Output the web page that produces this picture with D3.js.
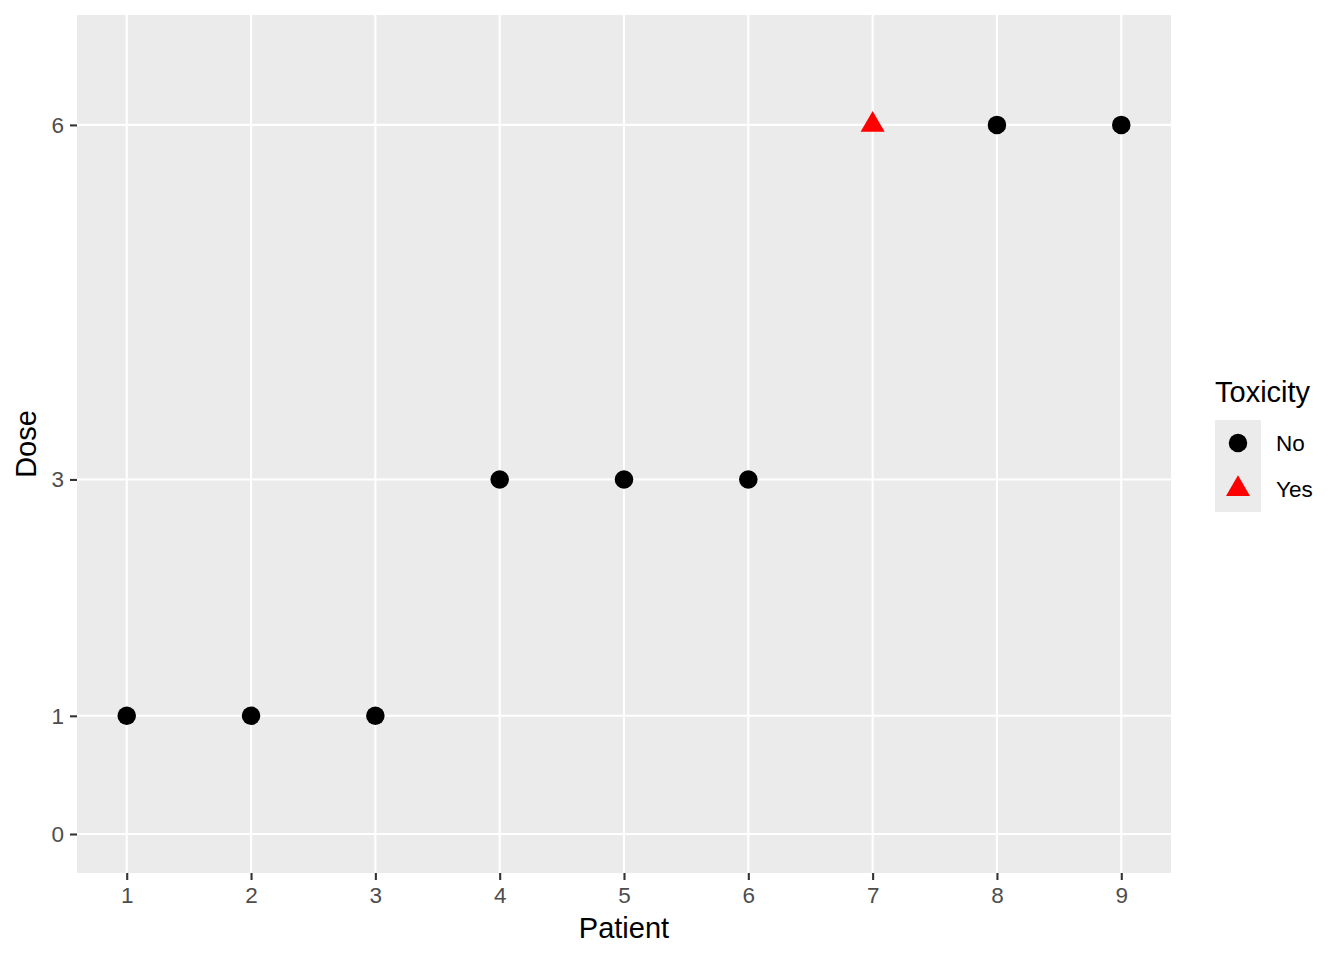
<!DOCTYPE html>
<html>
<head>
<meta charset="utf-8">
<script src="https://cdn.jsdelivr.net/npm/d3@7"></script>
<style>
body { margin: 0; background: #fff; }
text { font-family: "Liberation Sans", Arial, sans-serif; }
</style>
</head>
<body>
<div id="chart"></div>
<script>
var patients = [1, 2, 3, 4, 5, 6, 7, 8, 9];
var doses = [1, 1, 1, 3, 3, 3, 6, 6, 6];
var toxicity = ["No", "No", "No", "No", "No", "No", "Yes", "No", "No"];
var doseTicks = [0, 1, 3, 6];
var toxLevels = ["No", "Yes"];

var width = 1344, height = 960;
var panel = {left: 77, right: 1171, top: 15, bottom: 873};

var svg = d3.select("#chart").append("svg")
    .attr("width", width).attr("height", height);

var x = d3.scaleLinear().domain([0.6, 9.4]).range([panel.left, panel.right]);
var y = d3.scaleLinear().domain([-0.33, 6.93]).range([panel.bottom, panel.top]);

var colour = d3.scaleOrdinal().domain(toxLevels).range(["#000000", "#ff0000"]);
var shape = d3.scaleOrdinal().domain(toxLevels).range([d3.symbolCircle, d3.symbolTriangle]);
var size = {No: 270, Yes: 250};

// panel background + grid
svg.append("rect")
    .attr("x", panel.left).attr("y", panel.top)
    .attr("width", panel.right - panel.left).attr("height", panel.bottom - panel.top)
    .attr("fill", "#ebebeb");

svg.selectAll(".vgrid").data(patients).enter().append("line")
    .attr("x1", d => x(d)).attr("x2", d => x(d))
    .attr("y1", panel.top).attr("y2", panel.bottom)
    .attr("stroke", "#fff").attr("stroke-width", 2.1);

svg.selectAll(".hgrid").data(doseTicks).enter().append("line")
    .attr("y1", d => y(d)).attr("y2", d => y(d))
    .attr("x1", panel.left).attr("x2", panel.right)
    .attr("stroke", "#fff").attr("stroke-width", 2.1);

// axes
var xAxis = svg.append("g")
    .attr("transform", "translate(0," + panel.bottom + ")")
    .call(d3.axisBottom(x).tickValues(patients).tickSize(7).tickPadding(0).tickFormat(d3.format("d")));
var yAxis = svg.append("g")
    .attr("transform", "translate(" + panel.left + ",0)")
    .call(d3.axisLeft(y).tickValues(doseTicks).tickSize(7).tickPadding(6).tickFormat(d3.format("d")));

[xAxis, yAxis].forEach(function(a) {
    a.select(".domain").remove();
    a.selectAll(".tick line").attr("stroke", "#333").attr("stroke-width", 2.1);
    a.selectAll(".tick text").attr("fill", "#4d4d4d")
        .style("font-size", "22.5px").style("font-family", "Liberation Sans, Arial, sans-serif");
});
xAxis.selectAll(".tick text").attr("y", 30).attr("dy", null);

// axis titles
svg.append("text")
    .attr("x", (panel.left + panel.right) / 2).attr("y", 938)
    .attr("text-anchor", "middle")
    .style("font-size", "29px")
    .text("Patient");
svg.append("text")
    .attr("transform", "translate(36," + ((panel.top + panel.bottom) / 2) + ") rotate(-90)")
    .attr("text-anchor", "middle")
    .style("font-size", "29px")
    .text("Dose");

// points
svg.selectAll(".pt").data(patients).enter().append("path")
    .attr("transform", (d, i) => "translate(" + x(d) + "," + y(doses[i]) + ")")
    .attr("d", (d, i) => d3.symbol().type(shape(toxicity[i])).size(size[toxicity[i]])())
    .attr("fill", (d, i) => colour(toxicity[i]));

// legend
var lg = svg.append("g").attr("transform", "translate(1215,0)");
lg.append("text").attr("x", 0).attr("y", 402)
    .style("font-size", "29px").text("Toxicity");
var keys = lg.selectAll(".key").data(toxLevels).enter().append("g")
    .attr("transform", (d, i) => "translate(0," + (420 + i * 46) + ")");
keys.append("rect").attr("width", 46).attr("height", 46).attr("fill", "#ebebeb");
keys.append("path")
    .attr("transform", "translate(23,23)")
    .attr("d", d => d3.symbol().type(shape(d)).size(size[d])())
    .attr("fill", d => colour(d));
keys.append("text")
    .attr("x", 61).attr("y", 23).attr("dy", "0.35em")
    .style("font-size", "22.5px")
    .text(d => d);
</script>
</body>
</html>
